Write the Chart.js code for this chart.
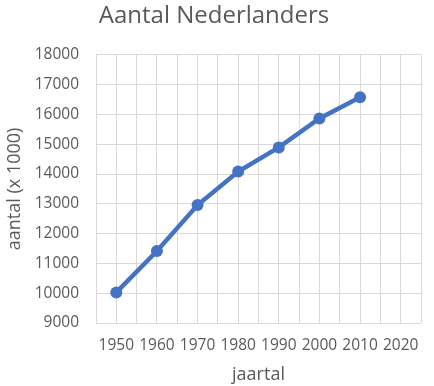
<!DOCTYPE html>
<html>
<head>
<meta charset="utf-8">
<script src="https://cdn.jsdelivr.net/npm/chart.js@4/dist/chart.umd.min.js"></script>
<style>
  html, body { margin: 0; padding: 0; background: #fff; }
  #wrap { width: 434px; height: 386px; position: relative; }
</style>
</head>
<body>
<div id="wrap"><canvas id="chart" width="434" height="386"></canvas></div>
<script>
/* ── Data ── */
const years      = [1950, 1960, 1970, 1980, 1990, 2000, 2010];
const population = [10027, 11417, 12958, 14080, 14893, 15864, 16575];
const xTickYears = [1950, 1960, 1970, 1980, 1990, 2000, 2010, 2020];
const yTicks     = [9000, 10000, 11000, 12000, 13000, 14000, 15000, 16000, 17000, 18000];

const grey = '#595959';
const grid = '#d9d9d9';
const font = '"Open Sans", sans-serif';

const ctx = document.getElementById('chart');
new Chart(ctx, {
  type: 'line',
  data: {
    datasets: [{
      label: 'Aantal',
      data: years.map((y, i) => ({ x: y, y: population[i] })),
      borderColor: '#4472c4',
      backgroundColor: '#4472c4',
      borderWidth: 4.5,
      pointRadius: 6,
      pointBorderWidth: 0,
      tension: 0,
    }]
  },
  options: {
    responsive: false,
    animation: false,
    layout: { padding: { left: 4, right: 10, top: 0, bottom: 0 } },
    plugins: {
      legend: { display: false },
      tooltip: { enabled: false },
      title: {
        display: true,
        text: 'Aantal Nederlanders',
        color: grey,
        font: { family: font, size: 24, weight: 'normal' },
        padding: { top: 2, bottom: 24 },
      }
    },
    scales: {
      x: {
        type: 'linear',
        min: 1945, max: 2025,
        afterBuildTicks: s => {
          const t = [];
          for (let v = 1945; v <= 2025; v += 5) t.push({ value: v });
          s.ticks = t;
        },
        grid: { color: grid, lineWidth: 1, drawTicks: false },
        border: { display: false },
        ticks: {
          color: grey, padding: 13, maxRotation: 0, autoSkip: false,
          font: { family: font, size: 15.5 },
          callback: v => xTickYears.includes(v) ? String(v) : '',
        },
        title: {
          display: true, text: 'jaartal', color: grey,
          font: { family: font, size: 18 }, padding: { top: 3, bottom: 0 }
        },
        afterFit: s => { s.height = 63; }
      },
      y: {
        min: yTicks[0], max: yTicks[yTicks.length - 1],
        afterBuildTicks: s => { s.ticks = yTicks.map(v => ({ value: v })); },
        grid: { color: grid, lineWidth: 1, drawTicks: false },
        border: { display: false },
        ticks: {
          color: grey, padding: 17,
          font: { family: font, size: 15.5 },
          callback: v => String(v),
        },
        title: {
          display: true, text: 'aantal (x 1000)', color: grey,
          font: { family: font, size: 18 }, padding: { top: 0, bottom: 2 }
        },
        afterFit: s => { s.width = 92; }
      }
    }
  }
});
</script>
</body>
</html>
